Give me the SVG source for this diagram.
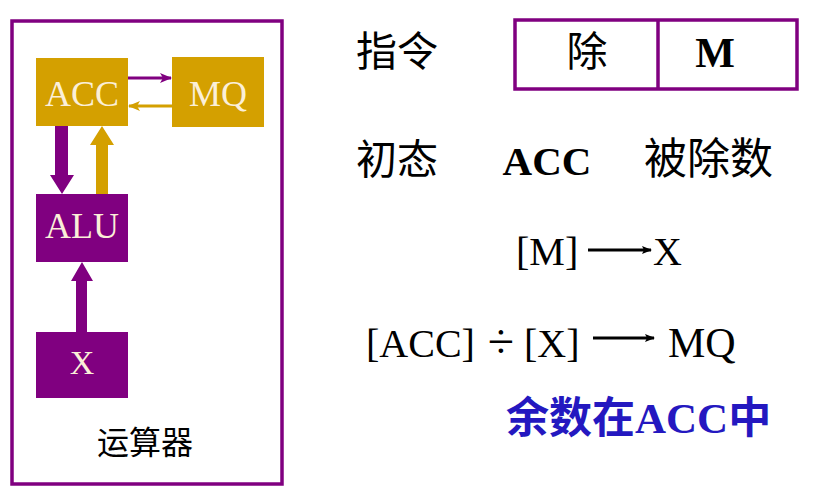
<svg xmlns="http://www.w3.org/2000/svg" width="828" height="499" viewBox="0 0 828 499">
<style>
.gold{fill:#D4A000}
.purp{fill:#800080}
.lbl{font-family:"Liberation Serif","Times New Roman",serif;font-size:36px;fill:#FBEFD8;text-anchor:middle}
.cjk{font-family:"Noto Sans CJK SC","Noto Sans CJK JP",sans-serif;fill:#000}
.ser{font-family:"Liberation Serif","Times New Roman",serif;fill:#000}
.box{fill:none;stroke:#800080;stroke-width:3.5}
</style>
<defs>
<marker id="mp" markerWidth="12" markerHeight="10" refX="11" refY="5" orient="auto" markerUnits="userSpaceOnUse"><path d="M0,0 L12,5 L0,10 L3,5 Z" fill="#800080"/></marker>
<marker id="mg" markerWidth="12" markerHeight="10" refX="11" refY="5" orient="auto" markerUnits="userSpaceOnUse"><path d="M0,0 L12,5 L0,10 L3,5 Z" fill="#D4A000"/></marker>
<marker id="mk" markerWidth="10" markerHeight="8" refX="9" refY="4" orient="auto" markerUnits="userSpaceOnUse"><path d="M0,0 L10,4 L0,8 L2,4 Z" fill="#000"/></marker>
</defs>
<rect width="828" height="499" fill="#fff"/>
<g id="alu-unit">
<rect class="box" x="12" y="21" width="270" height="463"/>
</g>
<g id="acc"><rect class="gold" x="36" y="58" width="92" height="68"/><text class="lbl" x="82" y="106">ACC</text></g>
<g id="mq"><rect class="gold" x="172" y="57" width="92" height="70"/><text class="lbl" x="218" y="106">MQ</text></g>
<g id="alu"><rect class="purp" x="36" y="194" width="92" height="68"/><text class="lbl" x="82" y="238">ALU</text></g>
<g id="x"><rect class="purp" x="36" y="332" width="92" height="66"/><text class="lbl" x="82" y="374" style="font-size:34px">X</text></g>
<g id="connectors">
<line x1="128" y1="78" x2="171" y2="78" stroke="#800080" stroke-width="3" marker-end="url(#mp)"/>
<line x1="172" y1="106" x2="129" y2="106" stroke="#D4A000" stroke-width="3" marker-end="url(#mg)"/>
<polygon class="purp" points="55,126 68,126 68,175 74,175 62,194 50,175 55,175"/>
<polygon class="gold" points="96,194 108,194 108,145 114,145 102,126 90,145 96,145"/>
<polygon class="purp" points="76,332 87,332 87,281 93,281 82,262 71,281 76,281"/>
</g>
<g id="label-unit"><text class="cjk" x="145" y="454" font-size="32" text-anchor="middle">运算器</text></g>
<g id="instr">
<text class="cjk" x="356" y="66" font-size="41">指令</text>
<rect class="box" x="515" y="20" width="282" height="69"/>
<line x1="658" y1="20" x2="658" y2="89" stroke="#800080" stroke-width="3.5"/>
<text class="cjk" x="587" y="66" font-size="41" text-anchor="middle">除</text>
<text class="ser" x="715" y="67" font-size="42" font-weight="bold" text-anchor="middle">M</text>
</g>
<g id="init">
<text class="cjk" x="356" y="174" font-size="41">初态</text>
<text class="ser" x="547" y="175" font-size="41" font-weight="bold" text-anchor="middle">ACC</text>
<text class="cjk" x="644" y="174" font-size="43">被除数</text>
</g>
<g id="step1">
<text class="ser" x="516" y="265" font-size="40">[M]</text>
<line x1="588" y1="250" x2="651" y2="250" stroke="#000" stroke-width="3" marker-end="url(#mk)"/>
<text class="ser" x="653" y="265" font-size="40">X</text>
</g>
<g id="step2">
<text class="ser" x="366" y="357" font-size="40">[ACC]</text>
<text class="ser" x="501" y="358" font-size="48" text-anchor="middle">÷</text>
<text class="ser" x="524" y="357" font-size="40">[X]</text>
<line x1="593" y1="338" x2="654" y2="338" stroke="#000" stroke-width="3" marker-end="url(#mk)"/>
<text class="ser" x="668" y="357" font-size="42">MQ</text>
</g>
<g id="remainder">
<text x="506" y="433" font-size="43" font-weight="bold" fill="#2418C0"><tspan font-family="Noto Sans CJK SC,sans-serif">余数在</tspan><tspan font-family="Liberation Serif,serif">ACC</tspan><tspan font-family="Noto Sans CJK SC,sans-serif">中</tspan></text>
</g>
</svg>
